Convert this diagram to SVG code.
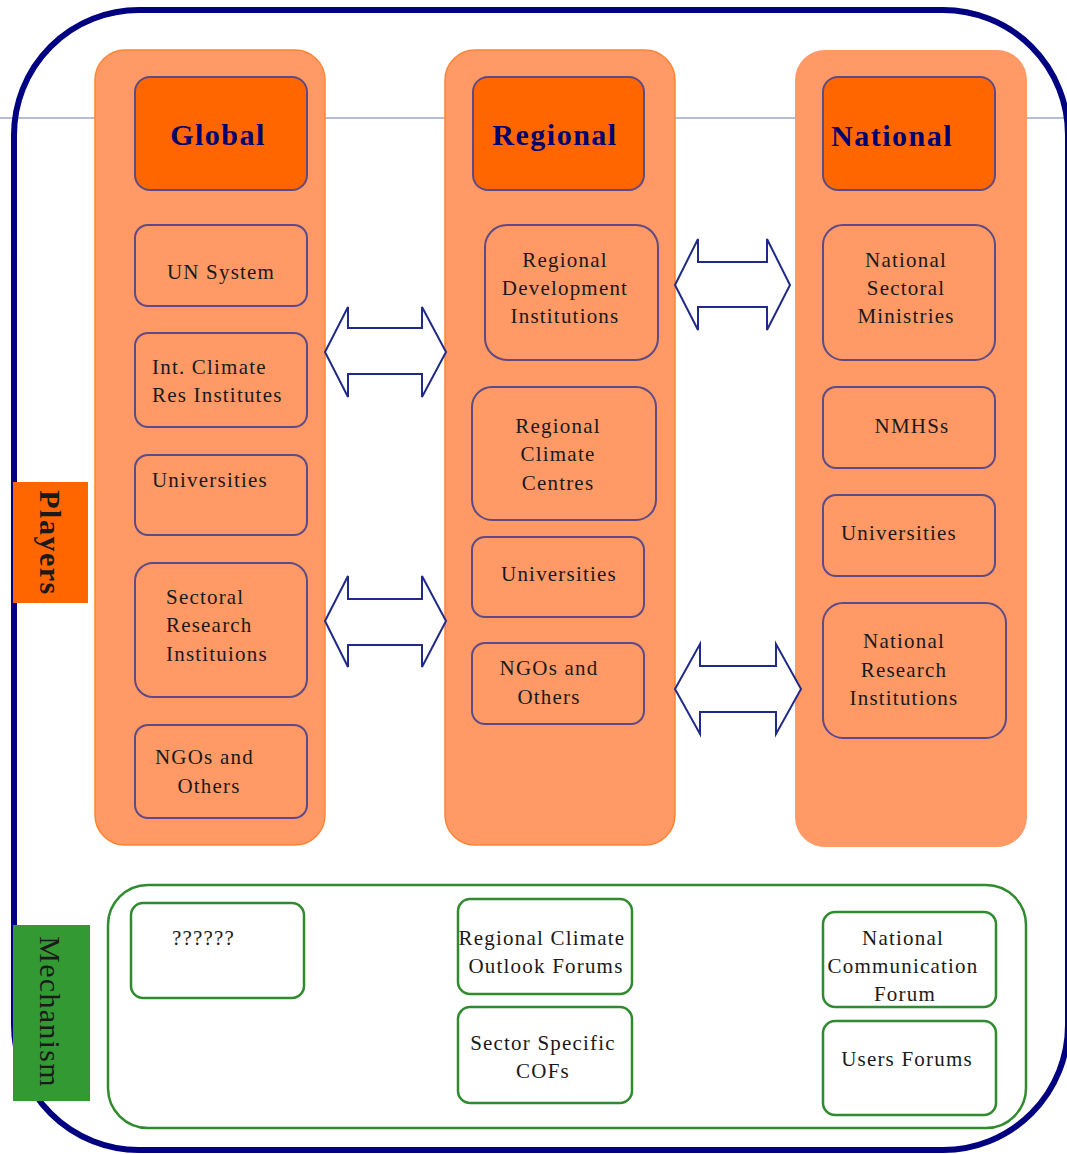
<svg xmlns="http://www.w3.org/2000/svg" width="1067" height="1154" viewBox="0 0 1067 1154">
<style>
.col{fill:#FF9966;stroke:#FF8533;stroke-width:1.5}
.hdr{fill:#FF6600;stroke:#5E4A86;stroke-width:2}
.item{fill:#FF9966;stroke:#5E4A86;stroke-width:2}
.mbox{fill:#FFFFFF;stroke:#2E8B2E;stroke-width:2.5}
.ht{font-family:"Liberation Serif",serif;font-weight:bold;font-size:30px;letter-spacing:1.5px;fill:#000070}
.t{font-family:"Liberation Serif",serif;font-size:21px;letter-spacing:1.2px;fill:#1a1a1a}
.c{text-anchor:middle}
.arr{fill:#FFFFFF;stroke:#1F2A8A;stroke-width:2;stroke-linejoin:miter}
</style>
<rect x="0" y="0" width="1067" height="1154" fill="#FFFFFF"/>
<line x1="0" y1="118" x2="1067" y2="118" stroke="#9AAAC8" stroke-width="1.5"/>
<rect id="frame" x="14" y="10" width="1054" height="1140" rx="125" ry="125" fill="none" stroke="#000080" stroke-width="6"/>

<g id="col-global">
<rect class="col" x="95" y="50" width="230" height="795" rx="30"/>
<g id="global"><rect class="hdr" x="135" y="77" width="172" height="113" rx="15"/><text class="ht c" x="218" y="145">Global</text></g>
<g id="un-system"><rect class="item" x="135" y="225" width="172" height="81" rx="13"/><text class="t c" x="221" y="279">UN System</text></g>
<g id="int-climate"><rect class="item" x="135" y="333" width="172" height="94" rx="13"/><text class="t" x="152" y="374">Int. Climate</text><text class="t" x="152" y="402">Res Institutes</text></g>
<g id="g-universities"><rect class="item" x="135" y="455" width="172" height="80" rx="13"/><text class="t" x="152" y="487">Universities</text></g>
<g id="sectoral-research"><rect class="item" x="135" y="563" width="172" height="134" rx="18"/><text class="t" x="166" y="604">Sectoral</text><text class="t" x="166" y="632">Research</text><text class="t" x="166" y="661">Instituions</text></g>
<g id="g-ngos"><rect class="item" x="135" y="725" width="172" height="93" rx="13"/><text class="t" x="155" y="764">NGOs and</text><text class="t c" x="209" y="793">Others</text></g>
</g>

<g id="col-regional">
<rect class="col" x="445" y="50" width="230" height="795" rx="30"/>
<g id="regional"><rect class="hdr" x="473" y="77" width="171" height="113" rx="15"/><text class="ht c" x="555" y="145">Regional</text></g>
<g id="rdi"><rect class="item" x="485" y="225" width="173" height="135" rx="22"/><text class="t c" x="565" y="267">Regional</text><text class="t c" x="565" y="295">Development</text><text class="t c" x="565" y="323">Institutions</text></g>
<g id="rcc"><rect class="item" x="472" y="387" width="184" height="133" rx="20"/><text class="t c" x="558" y="433">Regional</text><text class="t c" x="558" y="461">Climate</text><text class="t c" x="558" y="490">Centres</text></g>
<g id="r-universities"><rect class="item" x="472" y="537" width="172" height="80" rx="13"/><text class="t c" x="559" y="581">Universities</text></g>
<g id="r-ngos"><rect class="item" x="472" y="643" width="172" height="81" rx="13"/><text class="t c" x="549" y="675">NGOs and</text><text class="t c" x="549" y="704">Others</text></g>
</g>

<g id="col-national">
<rect x="795" y="50" width="232" height="797" rx="30" fill="#FF9966"/>
<g id="national"><rect class="hdr" x="823" y="77" width="172" height="113" rx="15"/><text class="ht" x="831" y="146">National</text></g>
<g id="nsm"><rect class="item" x="823" y="225" width="172" height="135" rx="20"/><text class="t c" x="906" y="267">National</text><text class="t c" x="906" y="295">Sectoral</text><text class="t c" x="906" y="323">Ministries</text></g>
<g id="nmhss"><rect class="item" x="823" y="387" width="172" height="81" rx="13"/><text class="t c" x="912" y="433">NMHSs</text></g>
<g id="n-universities"><rect class="item" x="823" y="495" width="172" height="81" rx="13"/><text class="t" x="841" y="540">Universities</text></g>
<g id="nri"><rect class="item" x="823" y="603" width="183" height="135" rx="20"/><text class="t c" x="904" y="648">National</text><text class="t c" x="904" y="677">Research</text><text class="t c" x="904" y="705">Institutions</text></g>
</g>

<g id="connectors">
<polygon class="arr" points="325,352 348,307 348,328 422,328 422,307 446,352 422,397 422,374 348,374 348,397"/>
<polygon class="arr" points="675,285 698,239 698,262 767,262 767,239 790,285 767,330 767,307 698,307 698,330"/>
<polygon class="arr" points="325,621 348,576 348,599 422,599 422,576 446,621 422,667 422,645 348,645 348,667"/>
<polygon class="arr" points="675,689 700,644 700,666 776,666 776,644 801,689 776,734 776,712 700,712 700,734"/>
</g>

<g id="players">
<rect x="13" y="482" width="75" height="121" fill="#FF6600"/>
<text transform="translate(50,543) rotate(90)" x="0" y="10" text-anchor="middle" style="font-family:'Liberation Serif',serif;font-weight:bold;font-size:30px;letter-spacing:1.5px;fill:#1a1a1a">Players</text>
</g>

<g id="mechanism">
<rect x="13" y="925" width="77" height="176" fill="#339933"/>
<text transform="translate(50,1012) rotate(90)" x="0" y="10" text-anchor="middle" style="font-family:'Liberation Serif',serif;font-size:30px;letter-spacing:1.3px;fill:#1a1a1a">Mechanism</text>
</g>

<g id="mechanism-panel">
<rect x="108" y="885" width="918" height="243" rx="40" fill="none" stroke="#2E8B2E" stroke-width="2.5"/>
<g id="unknown"><rect class="mbox" x="131" y="903" width="173" height="95" rx="12"/><text class="t" x="172" y="945">??????</text></g>
<g id="rcof"><rect class="mbox" x="458" y="899" width="174" height="95" rx="12"/><text class="t c" x="542" y="945">Regional Climate</text><text class="t c" x="546" y="973">Outlook Forums</text></g>
<g id="sscof"><rect class="mbox" x="458" y="1007" width="174" height="96" rx="12"/><text class="t c" x="543" y="1050">Sector Specific</text><text class="t c" x="543" y="1078">COFs</text></g>
<g id="ncf"><rect class="mbox" x="823" y="912" width="173" height="95" rx="12"/><text class="t c" x="903" y="945">National</text><text class="t c" x="903" y="973">Communication</text><text class="t c" x="905" y="1001">Forum</text></g>
<g id="users"><rect class="mbox" x="823" y="1021" width="173" height="94" rx="12"/><text class="t c" x="907" y="1066">Users Forums</text></g>
</g>
</svg>
